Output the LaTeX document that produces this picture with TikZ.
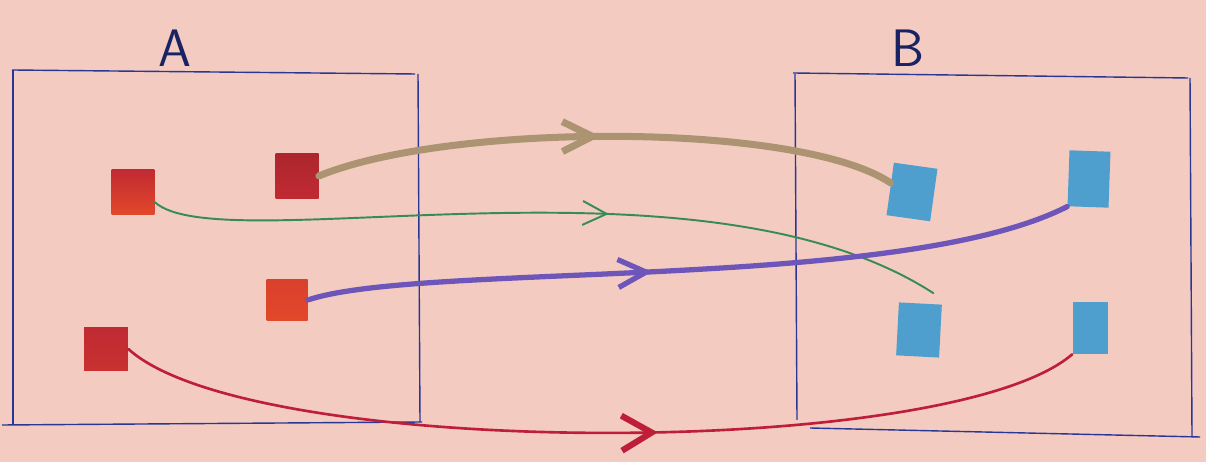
\documentclass[tikz,border=0pt]{standalone}
\usetikzlibrary{arrows.meta,decorations.markings}
\definecolor{paper}{RGB}{243,203,193}
\definecolor{pen}{RGB}{40,55,150}
\definecolor{ink}{RGB}{25,35,100}
\definecolor{dkred}{RGB}{192,42,50}
\definecolor{orred}{RGB}{226,72,42}
\definecolor{skyb}{RGB}{78,158,206}
\definecolor{brn}{RGB}{172,148,115}
\definecolor{grn}{RGB}{55,140,85}
\definecolor{prp}{RGB}{110,85,185}
\definecolor{rd}{RGB}{190,30,55}
\tikzset{
  rsq/.style={rectangle,inner sep=0pt,minimum width=0.86cm,minimum height=0.9cm,top color=dkred,bottom color=orred,draw=none},
  bsq/.style={rectangle,inner sep=0pt,minimum width=0.92cm,minimum height=1.06cm,fill=skyb},
  lbl/.style={font=\sffamily\fontsize{30}{30}\selectfont,text=ink},
  frame/.style={draw=pen,line width=0.8pt},
  flow/.style 2 args={line cap=round,
    decoration={markings,mark=at position #1 with {\arrow{Straight Barb[length=#2,width=#2]}}},
    postaction={decorate}},
}
\begin{document}
\begin{tikzpicture}[x=0.02cm,y=0.02cm]
  \fill[paper] (0,0) rectangle (1206,462);
  \useasboundingbox (0,0) rectangle (1206,462);
  % box A
  \draw[frame] (12,392) -- (415,388);
  \draw[frame] (13,392) -- (13,38);
  \draw[frame] (418,388) -- (420,40);
  \draw[frame] (2,37) -- (422,40);
  % box B
  \draw[frame] (793,389) -- (1188,384);
  \draw[frame] (795,388) -- (797,42);
  \draw[frame] (1190,384) -- (1192,25);
  \draw[frame] (810,34) -- (1200,25);
  \node[lbl] (la) at (175,414) {A};
  \node[lbl] (lb) at (908,414) {B};
  % squares
  \node[rsq] (r1) at (133,270) {};
  \node[rsq,top color=dkred!90!black,bottom color=dkred] (r2) at (297,286) {};
  \node[rsq,minimum width=0.82cm,minimum height=0.82cm,top color=orred!75!dkred,bottom color=orred] (r3) at (287,162) {};
  \node[rsq,minimum width=0.88cm,minimum height=0.86cm,top color=dkred,bottom color=dkred!75!orred] (r4) at (106,113) {};
  \node[bsq,minimum width=0.88cm,rotate=-8] (b1) at (912,270) {};
  \node[bsq,minimum width=0.82cm,minimum height=1.12cm,rotate=-2] (b2) at (1089,283) {};
  \node[bsq,minimum width=0.86cm,minimum height=1.06cm,rotate=-3] (b3) at (919,132) {};
  \node[bsq,minimum width=0.7cm,minimum height=1.04cm] (b4) at (1090,134) {};
  % arrows
  \draw[flow={0.49}{6mm},brn,line width=4pt] (r2.east) .. controls (450,340) and (800,340) .. (b1.165);
  \draw[flow={0.575}{4.8mm},grn,line width=1.1pt] (r1.-25) .. controls (220,200) and (700,320) .. ([xshift=0.26cm,yshift=0.2cm]b3.north);
  \draw[flow={0.45}{5.6mm},prp,line width=3pt] (r3.east) .. controls (420,200) and (900,170) .. (b2.south west);
  \draw[rd,line width=1.5pt,line cap=round,
    decoration={markings,mark=at position 0.56 with {\arrow{Straight Barb[line width=3.5pt,length=6mm,width=7mm]}}},
    postaction={decorate}]
    (r4.east) .. controls (250,2) and (950,2) .. (b4.south west);
\end{tikzpicture}
\end{document}
